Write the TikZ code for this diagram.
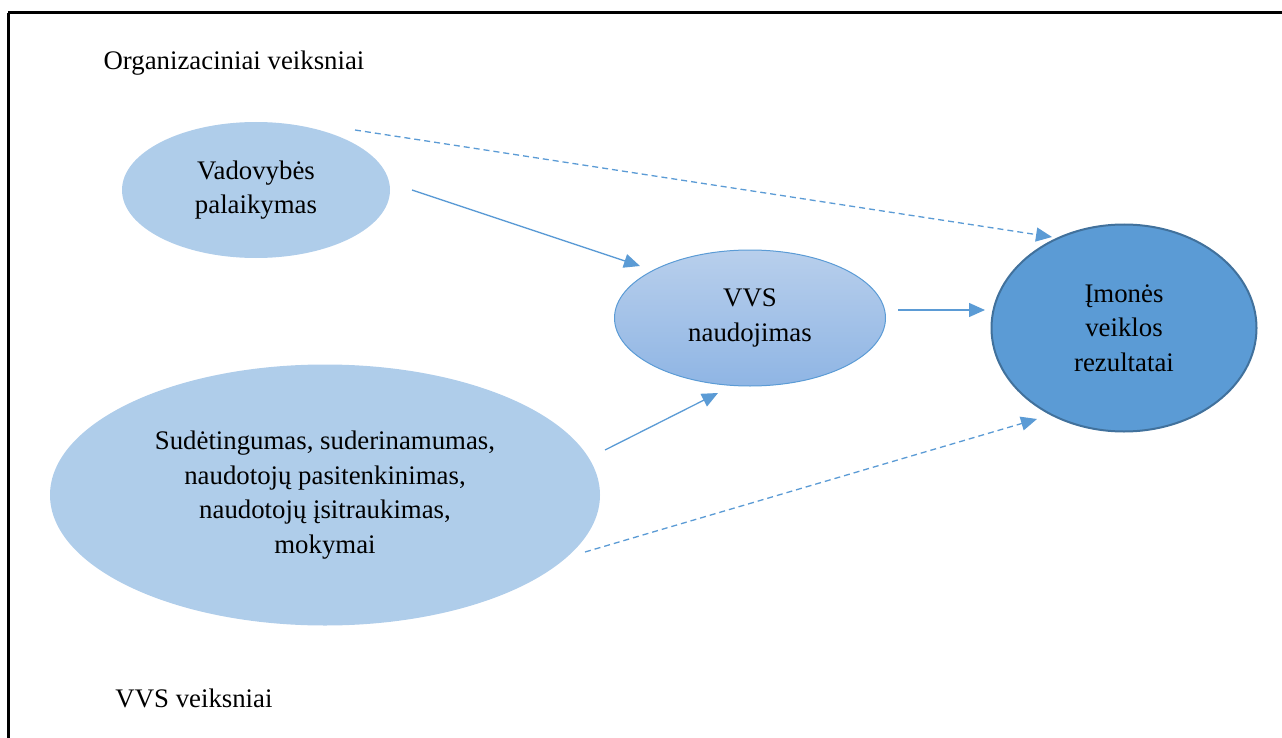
\documentclass[tikz,border=0pt]{standalone}
\usepackage{fontspec}
\setmainfont{Liberation Serif}
\usetikzlibrary{arrows.meta,shapes.geometric}
\definecolor{lightfill}{RGB}{175,205,234}
\definecolor{accent}{RGB}{91,155,213}
\definecolor{accentdark}{RGB}{65,113,156}
\definecolor{gradtop}{RGB}{184,207,236}
\definecolor{gradbot}{RGB}{143,181,228}
\begin{document}
\begin{tikzpicture}[x=1pt,y=-1pt,
  txt/.style={font=\fontsize{26.8}{34.5}\selectfont, align=center, text=black},
  oval/.style={shape=ellipse, inner sep=0pt},
  factor/.style={oval, fill=lightfill},
  link/.style={draw=accent, line width=1.3pt, -{Triangle[length=16pt,width=14pt]}},
  dlink/.style={link, dash pattern=on 6pt off 4pt}]
\useasboundingbox (0,0) rectangle (1282,738);
% outer frame (continues past the right and bottom edges)
\draw[line width=3pt] (8,13) -- (1300,13);
\draw[line width=3pt] (8,13) -- (8,760);

\node[txt] (orglbl) at (234,63) {Organizaciniai veiksniai};
\node[txt] (vvslbl) at (194,698) {VVS veiksniai};

\node[factor, minimum width=268pt, minimum height=136pt, txt] (vad) at (256,190) {Vadovybės\\palaikymas};
\node[factor, minimum width=550pt, minimum height=261pt, txt] (sud) at (325,495)
  {Sudėtingumas, suderinamumas,\\naudotojų pasitenkinimas,\\naudotojų įsitraukimas,\\mokymai};
\node[oval, minimum width=271pt, minimum height=136pt, top color=gradtop, bottom color=gradbot,
  draw=accent, line width=1pt, txt] (use) at (750,318) {VVS\\naudojimas};
\node[oval, minimum width=265pt, minimum height=207pt, fill=accent, draw=accentdark,
  line width=2pt, txt] (res) at (1124,328) {Įmonės\\veiklos\\rezultatai};

% connector end points, set slightly off the shapes
\coordinate (a1s) at (412,190);  \coordinate (a1e) at (640,266);
\coordinate (a2s) at (898,310);  \coordinate (a2e) at (985,310);
\coordinate (a3s) at (605,450);  \coordinate (a3e) at (718,393);
\coordinate (d1s) at (355,130);  \coordinate (d1e) at (1052,237);
\coordinate (d2s) at (585,552);  \coordinate (d2e) at (1037,419);

\draw[link] (a1s) -- (a1e);
\draw[link] (a2s) -- (a2e);
\draw[link] (a3s) -- (a3e);
\draw[dlink] (d1s) -- (d1e);
\draw[dlink] (d2s) -- (d2e);
\end{tikzpicture}
\end{document}
